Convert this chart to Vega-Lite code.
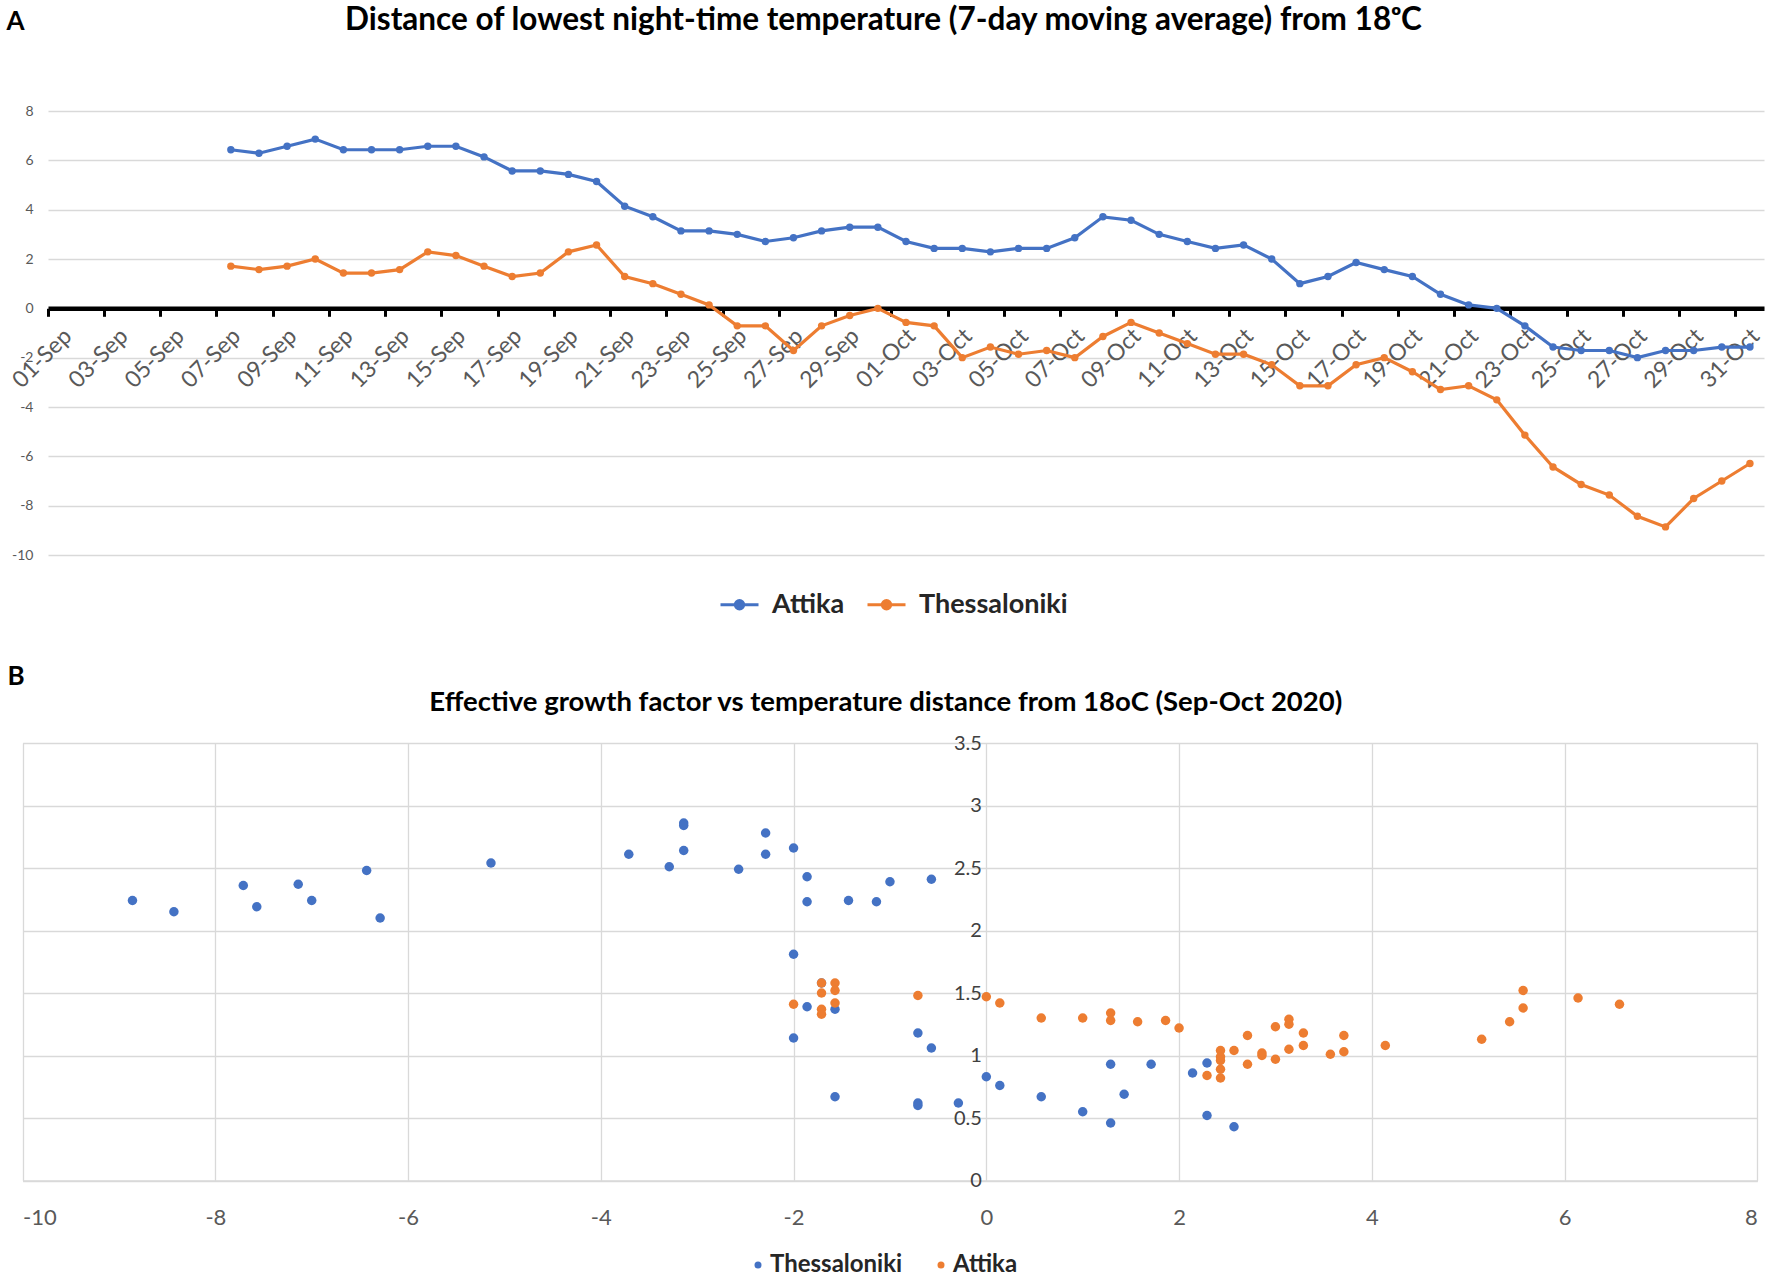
{
  "$schema": "https://vega.github.io/schema/vega-lite/v6.json",
  "background": "white",
  "padding": {"left": 6, "top": 4, "right": 0, "bottom": 0},
  "config": {"view": {"stroke": null}, "font": "Lato"},
  "spacing": 45,
  "resolve": {
    "scale": {"x": "independent", "y": "independent", "color": "independent"},
    "legend": {"color": "independent"}
  },
  "vconcat": [
    {
      "width": 1716,
      "height": 444,
      "data": {
        "values": [
          {"date": "07-Sep", "region": "Attika", "value": 6.43},
          {"date": "08-Sep", "region": "Attika", "value": 6.29},
          {"date": "09-Sep", "region": "Attika", "value": 6.57},
          {"date": "10-Sep", "region": "Attika", "value": 6.86},
          {"date": "11-Sep", "region": "Attika", "value": 6.43},
          {"date": "12-Sep", "region": "Attika", "value": 6.43},
          {"date": "13-Sep", "region": "Attika", "value": 6.43},
          {"date": "14-Sep", "region": "Attika", "value": 6.57},
          {"date": "15-Sep", "region": "Attika", "value": 6.57},
          {"date": "16-Sep", "region": "Attika", "value": 6.14},
          {"date": "17-Sep", "region": "Attika", "value": 5.57},
          {"date": "18-Sep", "region": "Attika", "value": 5.57},
          {"date": "19-Sep", "region": "Attika", "value": 5.43},
          {"date": "20-Sep", "region": "Attika", "value": 5.14},
          {"date": "21-Sep", "region": "Attika", "value": 4.14},
          {"date": "22-Sep", "region": "Attika", "value": 3.71},
          {"date": "23-Sep", "region": "Attika", "value": 3.14},
          {"date": "24-Sep", "region": "Attika", "value": 3.14},
          {"date": "25-Sep", "region": "Attika", "value": 3.0},
          {"date": "26-Sep", "region": "Attika", "value": 2.71},
          {"date": "27-Sep", "region": "Attika", "value": 2.86},
          {"date": "28-Sep", "region": "Attika", "value": 3.14},
          {"date": "29-Sep", "region": "Attika", "value": 3.29},
          {"date": "30-Sep", "region": "Attika", "value": 3.29},
          {"date": "01-Oct", "region": "Attika", "value": 2.71},
          {"date": "02-Oct", "region": "Attika", "value": 2.43},
          {"date": "03-Oct", "region": "Attika", "value": 2.43},
          {"date": "04-Oct", "region": "Attika", "value": 2.29},
          {"date": "05-Oct", "region": "Attika", "value": 2.43},
          {"date": "06-Oct", "region": "Attika", "value": 2.43},
          {"date": "07-Oct", "region": "Attika", "value": 2.86},
          {"date": "08-Oct", "region": "Attika", "value": 3.71},
          {"date": "09-Oct", "region": "Attika", "value": 3.57},
          {"date": "10-Oct", "region": "Attika", "value": 3.0},
          {"date": "11-Oct", "region": "Attika", "value": 2.71},
          {"date": "12-Oct", "region": "Attika", "value": 2.43},
          {"date": "13-Oct", "region": "Attika", "value": 2.57},
          {"date": "14-Oct", "region": "Attika", "value": 2.0},
          {"date": "15-Oct", "region": "Attika", "value": 1.0},
          {"date": "16-Oct", "region": "Attika", "value": 1.29},
          {"date": "17-Oct", "region": "Attika", "value": 1.86},
          {"date": "18-Oct", "region": "Attika", "value": 1.57},
          {"date": "19-Oct", "region": "Attika", "value": 1.29},
          {"date": "20-Oct", "region": "Attika", "value": 0.57},
          {"date": "21-Oct", "region": "Attika", "value": 0.14},
          {"date": "22-Oct", "region": "Attika", "value": 0.0},
          {"date": "23-Oct", "region": "Attika", "value": -0.71},
          {"date": "24-Oct", "region": "Attika", "value": -1.57},
          {"date": "25-Oct", "region": "Attika", "value": -1.71},
          {"date": "26-Oct", "region": "Attika", "value": -1.71},
          {"date": "27-Oct", "region": "Attika", "value": -2.0},
          {"date": "28-Oct", "region": "Attika", "value": -1.71},
          {"date": "29-Oct", "region": "Attika", "value": -1.71},
          {"date": "30-Oct", "region": "Attika", "value": -1.57},
          {"date": "31-Oct", "region": "Attika", "value": -1.57},
          {"date": "07-Sep", "region": "Thessaloniki", "value": 1.71},
          {"date": "08-Sep", "region": "Thessaloniki", "value": 1.57},
          {"date": "09-Sep", "region": "Thessaloniki", "value": 1.71},
          {"date": "10-Sep", "region": "Thessaloniki", "value": 2.0},
          {"date": "11-Sep", "region": "Thessaloniki", "value": 1.43},
          {"date": "12-Sep", "region": "Thessaloniki", "value": 1.43},
          {"date": "13-Sep", "region": "Thessaloniki", "value": 1.57},
          {"date": "14-Sep", "region": "Thessaloniki", "value": 2.29},
          {"date": "15-Sep", "region": "Thessaloniki", "value": 2.14},
          {"date": "16-Sep", "region": "Thessaloniki", "value": 1.71},
          {"date": "17-Sep", "region": "Thessaloniki", "value": 1.29},
          {"date": "18-Sep", "region": "Thessaloniki", "value": 1.43},
          {"date": "19-Sep", "region": "Thessaloniki", "value": 2.29},
          {"date": "20-Sep", "region": "Thessaloniki", "value": 2.57},
          {"date": "21-Sep", "region": "Thessaloniki", "value": 1.29},
          {"date": "22-Sep", "region": "Thessaloniki", "value": 1.0},
          {"date": "23-Sep", "region": "Thessaloniki", "value": 0.57},
          {"date": "24-Sep", "region": "Thessaloniki", "value": 0.14},
          {"date": "25-Sep", "region": "Thessaloniki", "value": -0.71},
          {"date": "26-Sep", "region": "Thessaloniki", "value": -0.71},
          {"date": "27-Sep", "region": "Thessaloniki", "value": -1.71},
          {"date": "28-Sep", "region": "Thessaloniki", "value": -0.71},
          {"date": "29-Sep", "region": "Thessaloniki", "value": -0.29},
          {"date": "30-Sep", "region": "Thessaloniki", "value": 0.0},
          {"date": "01-Oct", "region": "Thessaloniki", "value": -0.57},
          {"date": "02-Oct", "region": "Thessaloniki", "value": -0.71},
          {"date": "03-Oct", "region": "Thessaloniki", "value": -2.0},
          {"date": "04-Oct", "region": "Thessaloniki", "value": -1.57},
          {"date": "05-Oct", "region": "Thessaloniki", "value": -1.86},
          {"date": "06-Oct", "region": "Thessaloniki", "value": -1.71},
          {"date": "07-Oct", "region": "Thessaloniki", "value": -2.0},
          {"date": "08-Oct", "region": "Thessaloniki", "value": -1.14},
          {"date": "09-Oct", "region": "Thessaloniki", "value": -0.57},
          {"date": "10-Oct", "region": "Thessaloniki", "value": -1.0},
          {"date": "11-Oct", "region": "Thessaloniki", "value": -1.43},
          {"date": "12-Oct", "region": "Thessaloniki", "value": -1.86},
          {"date": "13-Oct", "region": "Thessaloniki", "value": -1.86},
          {"date": "14-Oct", "region": "Thessaloniki", "value": -2.29},
          {"date": "15-Oct", "region": "Thessaloniki", "value": -3.14},
          {"date": "16-Oct", "region": "Thessaloniki", "value": -3.14},
          {"date": "17-Oct", "region": "Thessaloniki", "value": -2.29},
          {"date": "18-Oct", "region": "Thessaloniki", "value": -2.0},
          {"date": "19-Oct", "region": "Thessaloniki", "value": -2.57},
          {"date": "20-Oct", "region": "Thessaloniki", "value": -3.29},
          {"date": "21-Oct", "region": "Thessaloniki", "value": -3.14},
          {"date": "22-Oct", "region": "Thessaloniki", "value": -3.71},
          {"date": "23-Oct", "region": "Thessaloniki", "value": -5.14},
          {"date": "24-Oct", "region": "Thessaloniki", "value": -6.43},
          {"date": "25-Oct", "region": "Thessaloniki", "value": -7.14},
          {"date": "26-Oct", "region": "Thessaloniki", "value": -7.57},
          {"date": "27-Oct", "region": "Thessaloniki", "value": -8.43},
          {"date": "28-Oct", "region": "Thessaloniki", "value": -8.86},
          {"date": "29-Oct", "region": "Thessaloniki", "value": -7.71},
          {"date": "30-Oct", "region": "Thessaloniki", "value": -7.0},
          {"date": "31-Oct", "region": "Thessaloniki", "value": -6.29}
        ]
      },
      "mark": {
        "type": "line",
        "strokeWidth": 3.2,
        "point": {"filled": true, "size": 55}
      },
      "encoding": {
        "x": {
          "field": "date",
          "type": "ordinal",
          "sort": null,
          "bandPosition": 0.5,
          "scale": {
            "type": "band",
            "paddingInner": 0,
            "paddingOuter": 0,
            "domain": [
              "01-Sep", "02-Sep", "03-Sep", "04-Sep", "05-Sep", "06-Sep", "07-Sep", "08-Sep", "09-Sep", "10-Sep",
              "11-Sep", "12-Sep", "13-Sep", "14-Sep", "15-Sep", "16-Sep", "17-Sep", "18-Sep", "19-Sep", "20-Sep",
              "21-Sep", "22-Sep", "23-Sep", "24-Sep", "25-Sep", "26-Sep", "27-Sep", "28-Sep", "29-Sep", "30-Sep",
              "01-Oct", "02-Oct", "03-Oct", "04-Oct", "05-Oct", "06-Oct", "07-Oct", "08-Oct", "09-Oct", "10-Oct",
              "11-Oct", "12-Oct", "13-Oct", "14-Oct", "15-Oct", "16-Oct", "17-Oct", "18-Oct", "19-Oct", "20-Oct",
              "21-Oct", "22-Oct", "23-Oct", "24-Oct", "25-Oct", "26-Oct", "27-Oct", "28-Oct", "29-Oct", "30-Oct",
              "31-Oct"
            ]
          },
          "axis": {
            "values": [
              "01-Sep", "03-Sep", "05-Sep", "07-Sep", "09-Sep", "11-Sep", "13-Sep", "15-Sep", "17-Sep", "19-Sep",
              "21-Sep", "23-Sep", "25-Sep", "27-Sep", "29-Sep", "01-Oct", "03-Oct", "05-Oct", "07-Oct", "09-Oct",
              "11-Oct", "13-Oct", "15-Oct", "17-Oct", "19-Oct", "21-Oct", "23-Oct", "25-Oct", "27-Oct", "29-Oct",
              "31-Oct"
            ],
            "bandPosition": 0,
            "offset": -246.7,
            "grid": false,
            "domainColor": "#000000",
            "domainWidth": 4.5,
            "tickColor": "#000000",
            "tickWidth": 3,
            "tickSize": 8,
            "labelAngle": -45,
            "labelAlign": "right",
            "labelBaseline": "middle",
            "labelOffset": 6,
            "labelPadding": 16,
            "labelOverlap": false,
            "labelFont": "Lato",
            "labelFontSize": 23,
            "labelColor": "#595959",
            "title": "Distance of lowest night-time temperature (7-day moving average) from 18ᵒC",
            "titleX": 835,
            "titleY": -279.3,
            "titleAlign": "center",
            "titleBaseline": "alphabetic",
            "titleFont": "Lato",
            "titleFontSize": 31.5,
            "titleFontWeight": "bold",
            "titleColor": "#000000"
          }
        },
        "y": {
          "field": "value",
          "type": "quantitative",
          "scale": {"domain": [-10, 8], "nice": false, "zero": false},
          "axis": {
            "values": [-10, -8, -6, -4, -2, 0, 2, 4, 6, 8],
            "grid": true,
            "gridColor": "#D9D9D9",
            "gridWidth": 1.5,
            "domain": false,
            "ticks": false,
            "labelPadding": 15,
            "labelFont": "Lato",
            "labelFontSize": 14,
            "labelColor": "#595959",
            "labelExpr": "toString(datum.value)",
            "title": "A",
            "titleAngle": 0,
            "titleX": -42,
            "titleY": -82,
            "titleAlign": "left",
            "titleBaseline": "alphabetic",
            "titleFont": "Lato",
            "titleFontSize": 26,
            "titleFontWeight": "bold",
            "titleColor": "#000000"
          }
        },
        "color": {
          "field": "region",
          "type": "nominal",
          "scale": {"domain": ["Attika", "Thessaloniki"], "range": ["#4472C4", "#ED7D31"]},
          "legend": {
            "orient": "none",
            "legendX": 671,
            "legendY": 473,
            "direction": "horizontal",
            "title": null,
            "symbolType": "M-1,0H1M-0.22,0A0.22,0.22 0 1,0 0.22,0A0.22,0.22 0 1,0 -0.22,0",
            "symbolSize": 1444,
            "symbolStrokeWidth": 3,
            "labelFont": "Lato",
            "labelFontSize": 27,
            "labelFontWeight": "bold",
            "labelColor": "#262626",
            "labelOffset": 12,
            "columnPadding": 16
          }
        }
      }
    },
    {
      "width": 1709.3,
      "height": 437.5,
      "data": {
        "values": [
          {"region": "Thessaloniki", "temp": -8.86, "growth": 2.24},
          {"region": "Thessaloniki", "temp": -8.43, "growth": 2.15},
          {"region": "Thessaloniki", "temp": -7.71, "growth": 2.36},
          {"region": "Thessaloniki", "temp": -7.57, "growth": 2.19},
          {"region": "Thessaloniki", "temp": -7.14, "growth": 2.37},
          {"region": "Thessaloniki", "temp": -7.0, "growth": 2.24},
          {"region": "Thessaloniki", "temp": -6.43, "growth": 2.48},
          {"region": "Thessaloniki", "temp": -6.29, "growth": 2.1},
          {"region": "Thessaloniki", "temp": -5.14, "growth": 2.54},
          {"region": "Thessaloniki", "temp": -3.71, "growth": 2.61},
          {"region": "Thessaloniki", "temp": -3.29, "growth": 2.51},
          {"region": "Thessaloniki", "temp": -3.14, "growth": 2.64},
          {"region": "Thessaloniki", "temp": -3.14, "growth": 2.86},
          {"region": "Thessaloniki", "temp": -3.14, "growth": 2.84},
          {"region": "Thessaloniki", "temp": -2.57, "growth": 2.49},
          {"region": "Thessaloniki", "temp": -2.29, "growth": 2.78},
          {"region": "Thessaloniki", "temp": -2.29, "growth": 2.61},
          {"region": "Thessaloniki", "temp": -2.0, "growth": 2.66},
          {"region": "Thessaloniki", "temp": -1.86, "growth": 2.43},
          {"region": "Thessaloniki", "temp": -1.86, "growth": 2.23},
          {"region": "Thessaloniki", "temp": -1.43, "growth": 2.24},
          {"region": "Thessaloniki", "temp": -1.14, "growth": 2.23},
          {"region": "Thessaloniki", "temp": -1.0, "growth": 2.39},
          {"region": "Thessaloniki", "temp": -0.57, "growth": 2.41},
          {"region": "Thessaloniki", "temp": -2.0, "growth": 1.81},
          {"region": "Thessaloniki", "temp": -1.71, "growth": 1.58},
          {"region": "Thessaloniki", "temp": -1.86, "growth": 1.39},
          {"region": "Thessaloniki", "temp": -1.57, "growth": 1.37},
          {"region": "Thessaloniki", "temp": -2.0, "growth": 1.14},
          {"region": "Thessaloniki", "temp": -0.71, "growth": 1.18},
          {"region": "Thessaloniki", "temp": -0.57, "growth": 1.06},
          {"region": "Thessaloniki", "temp": -1.57, "growth": 0.67},
          {"region": "Thessaloniki", "temp": -0.71, "growth": 0.62},
          {"region": "Thessaloniki", "temp": -0.71, "growth": 0.6},
          {"region": "Thessaloniki", "temp": -0.29, "growth": 0.62},
          {"region": "Thessaloniki", "temp": 0.0, "growth": 0.83},
          {"region": "Thessaloniki", "temp": 0.14, "growth": 0.76},
          {"region": "Thessaloniki", "temp": 0.57, "growth": 0.67},
          {"region": "Thessaloniki", "temp": 1.0, "growth": 0.55},
          {"region": "Thessaloniki", "temp": 1.29, "growth": 0.93},
          {"region": "Thessaloniki", "temp": 1.29, "growth": 0.46},
          {"region": "Thessaloniki", "temp": 1.43, "growth": 0.69},
          {"region": "Thessaloniki", "temp": 1.71, "growth": 0.93},
          {"region": "Thessaloniki", "temp": 2.14, "growth": 0.86},
          {"region": "Thessaloniki", "temp": 2.29, "growth": 0.94},
          {"region": "Thessaloniki", "temp": 2.29, "growth": 0.52},
          {"region": "Thessaloniki", "temp": 2.57, "growth": 0.43},
          {"region": "Attika", "temp": -2.0, "growth": 1.41},
          {"region": "Attika", "temp": -1.71, "growth": 1.58},
          {"region": "Attika", "temp": -1.71, "growth": 1.5},
          {"region": "Attika", "temp": -1.71, "growth": 1.37},
          {"region": "Attika", "temp": -1.71, "growth": 1.33},
          {"region": "Attika", "temp": -1.57, "growth": 1.58},
          {"region": "Attika", "temp": -1.57, "growth": 1.52},
          {"region": "Attika", "temp": -1.57, "growth": 1.42},
          {"region": "Attika", "temp": -0.71, "growth": 1.48},
          {"region": "Attika", "temp": 0.0, "growth": 1.47},
          {"region": "Attika", "temp": 0.14, "growth": 1.42},
          {"region": "Attika", "temp": 0.57, "growth": 1.3},
          {"region": "Attika", "temp": 1.0, "growth": 1.3},
          {"region": "Attika", "temp": 1.29, "growth": 1.34},
          {"region": "Attika", "temp": 1.29, "growth": 1.28},
          {"region": "Attika", "temp": 1.57, "growth": 1.27},
          {"region": "Attika", "temp": 1.86, "growth": 1.28},
          {"region": "Attika", "temp": 2.0, "growth": 1.22},
          {"region": "Attika", "temp": 2.29, "growth": 0.84},
          {"region": "Attika", "temp": 2.43, "growth": 1.04},
          {"region": "Attika", "temp": 2.43, "growth": 0.99},
          {"region": "Attika", "temp": 2.43, "growth": 0.96},
          {"region": "Attika", "temp": 2.43, "growth": 0.89},
          {"region": "Attika", "temp": 2.43, "growth": 0.82},
          {"region": "Attika", "temp": 2.57, "growth": 1.04},
          {"region": "Attika", "temp": 2.71, "growth": 1.16},
          {"region": "Attika", "temp": 2.71, "growth": 0.93},
          {"region": "Attika", "temp": 2.86, "growth": 1.02},
          {"region": "Attika", "temp": 2.86, "growth": 1.0},
          {"region": "Attika", "temp": 3.0, "growth": 1.23},
          {"region": "Attika", "temp": 3.0, "growth": 0.97},
          {"region": "Attika", "temp": 3.14, "growth": 1.29},
          {"region": "Attika", "temp": 3.14, "growth": 1.25},
          {"region": "Attika", "temp": 3.14, "growth": 1.05},
          {"region": "Attika", "temp": 3.29, "growth": 1.18},
          {"region": "Attika", "temp": 3.29, "growth": 1.08},
          {"region": "Attika", "temp": 3.57, "growth": 1.01},
          {"region": "Attika", "temp": 3.71, "growth": 1.16},
          {"region": "Attika", "temp": 3.71, "growth": 1.03},
          {"region": "Attika", "temp": 4.14, "growth": 1.08},
          {"region": "Attika", "temp": 5.14, "growth": 1.13},
          {"region": "Attika", "temp": 5.43, "growth": 1.27},
          {"region": "Attika", "temp": 5.57, "growth": 1.38},
          {"region": "Attika", "temp": 5.57, "growth": 1.52},
          {"region": "Attika", "temp": 6.14, "growth": 1.46},
          {"region": "Attika", "temp": 6.57, "growth": 1.41}
        ]
      },
      "mark": {"type": "point", "filled": true, "size": 90, "opacity": 1},
      "encoding": {
        "x": {
          "field": "temp",
          "type": "quantitative",
          "scale": {"domain": [-10, 8], "nice": false, "zero": false, "range": [-25.4, 1709.3]},
          "axis": {
            "values": [-10, -8, -6, -4, -2, 0, 2, 4, 6, 8],
            "grid": true,
            "gridColor": "#D9D9D9",
            "gridWidth": 1.3,
            "domain": true,
            "domainColor": "#D9D9D9",
            "domainWidth": 1.5,
            "ticks": false,
            "labelPadding": 27,
            "labelFont": "Lato",
            "labelFontSize": 22,
            "labelColor": "#595959",
            "labelExpr": "toString(datum.value)",
            "title": "Effective growth factor vs temperature distance from 18oC (Sep-Oct 2020)",
            "titleX": 837.3,
            "titleY": -470,
            "titleAlign": "center",
            "titleBaseline": "alphabetic",
            "titleFont": "Lato",
            "titleFontSize": 27.5,
            "titleFontWeight": "bold",
            "titleColor": "#000000"
          }
        },
        "y": {
          "field": "growth",
          "type": "quantitative",
          "scale": {"domain": [0, 3.5], "nice": false},
          "axis": {
            "values": [0, 0.5, 1, 1.5, 2, 2.5, 3, 3.5],
            "offset": -938.3,
            "grid": true,
            "gridColor": "#D9D9D9",
            "gridWidth": 1.3,
            "domain": false,
            "ticks": false,
            "labelPadding": 5,
            "labelFont": "Lato",
            "labelFontSize": 20,
            "labelColor": "#404040",
            "labelExpr": "toString(datum.value)",
            "title": "B",
            "titleAngle": 0,
            "titleX": -979.3,
            "titleY": -58.5,
            "titleAlign": "left",
            "titleBaseline": "alphabetic",
            "titleFont": "Lato",
            "titleFontSize": 26,
            "titleFontWeight": "bold",
            "titleColor": "#000000"
          }
        },
        "color": {
          "field": "region",
          "type": "nominal",
          "scale": {"domain": ["Thessaloniki", "Attika"], "range": ["#4472C4", "#ED7D31"]},
          "legend": {
            "orient": "none",
            "legendX": 698,
            "legendY": 510,
            "direction": "horizontal",
            "title": null,
            "symbolType": "circle",
            "symbolSize": 49,
            "labelFont": "Lato",
            "labelFontSize": 24,
            "labelFontWeight": "bold",
            "labelColor": "#262626",
            "labelOffset": 0,
            "columnPadding": 26
          }
        }
      }
    }
  ]
}
